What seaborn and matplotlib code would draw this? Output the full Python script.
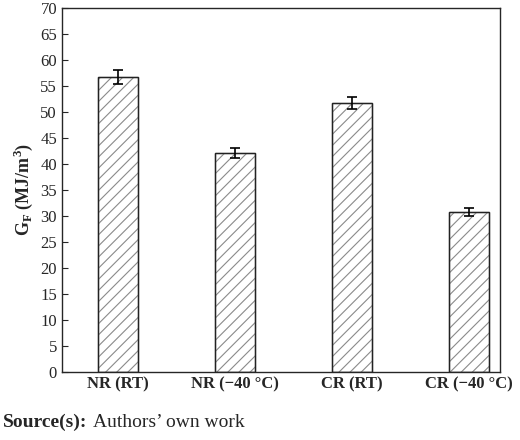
import matplotlib
matplotlib.use("Agg")
import matplotlib.pyplot as plt
import seaborn as sns
import pandas as pd

categories = ["NR (RT)", "NR (\u221240 \u00b0C)", "CR (RT)", "CR (\u221240 \u00b0C)"]
values = [56.7, 42.1, 51.7, 30.8]
errors = [1.4, 1.0, 1.2, 0.8]

sns.set_style("ticks")
plt.rcParams['font.family'] = ['Liberation Serif', 'DejaVu Serif']
plt.rcParams['hatch.color'] = '#8a8a8a'
plt.rcParams['hatch.linewidth'] = 0.8

df = pd.DataFrame({"cat": categories, "val": values})

fig = plt.figure(figsize=(5.2, 4.4), dpi=100)
ax = fig.add_axes([0.119, 0.155, 0.843, 0.827])
sns.barplot(data=df, x="cat", y="val", ax=ax, width=0.34, color="white",
            edgecolor="#8a8a8a", linewidth=1.0, errorbar=None)
for p in ax.patches:
    p.set_hatch("///")
    p.set_edgecolor("#8a8a8a")
    # draw a crisp black outline on top
    ax.add_patch(plt.Rectangle(p.get_xy(), p.get_width(), p.get_height(),
                               fill=False, edgecolor="#222222", linewidth=1.0))
ax.errorbar(range(len(values)), values, yerr=errors, fmt="none",
            ecolor="black", elinewidth=1.2, capsize=3.5, capthick=1.2)

ax.set_xlim(-0.48, 3.27)
ax.set_ylim(0, 70)
ax.set_yticks(range(0, 71, 5))
ax.set_xlabel("")
ax.set_ylabel(r"G$_\mathregular{F}$ (MJ/m$^\mathregular{3}$)", fontsize=13, fontweight="bold")
ax.tick_params(direction="in", labelsize=12, length=4)
for lab in ax.get_xticklabels():
    lab.set_fontweight("bold")
for s in ax.spines.values():
    s.set_linewidth(1.0)

fig.text(0.005, 0.04, "Source(s):", fontsize=14, fontweight="bold", ha="left", va="center")
fig.text(0.178, 0.04, "Authors\u2019 own work", fontsize=14, ha="left", va="center")

fig.savefig("out.png", dpi=100, facecolor="white")
